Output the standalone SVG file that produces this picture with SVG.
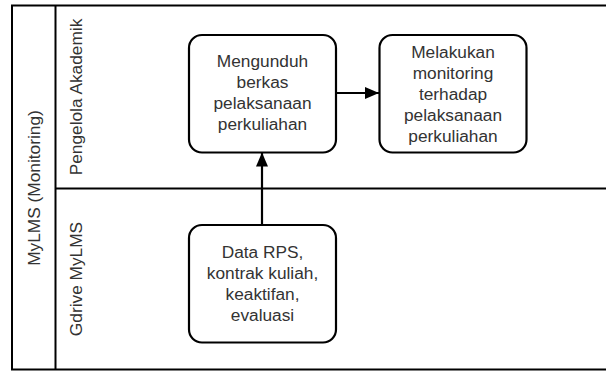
<svg xmlns="http://www.w3.org/2000/svg" width="606" height="371" viewBox="0 0 606 371">
<style>
.frame{fill:none;stroke:#000;stroke-width:2}
.node{fill:#fff;stroke:#000;stroke-width:2.2}
.t{font-family:"Liberation Sans",Arial,sans-serif;font-size:17.3px;fill:#333;text-anchor:middle}
.lbl{font-family:"Liberation Sans",Arial,sans-serif;font-size:17.3px;fill:#333;text-anchor:middle;dominant-baseline:central}
.edge{fill:none;stroke:#000;stroke-width:2.2}
</style>
<defs>
<marker id="ah" viewBox="0 0 14 12" refX="14" refY="6" markerWidth="14" markerHeight="12" markerUnits="userSpaceOnUse" orient="auto">
<path d="M0,0 L14,6 L0,12 Z" fill="#000"/>
</marker>
</defs>
<rect width="606" height="371" fill="#fff"/>
<g id="pool">
<rect class="frame" x="12" y="5.5" width="596" height="364"/>
<line class="frame" x1="55.5" y1="5.5" x2="55.5" y2="369.5"/>
<line class="frame" x1="55.5" y1="188.5" x2="608" y2="188.5"/>
<text class="lbl" transform="translate(34,188) rotate(-90)">MyLMS (Monitoring)</text>
</g>
<g id="lane-pengelola">
<text class="lbl" transform="translate(76,97) rotate(-90)">Pengelola Akademik</text>
</g>
<g id="lane-gdrive">
<text class="lbl" transform="translate(76,279) rotate(-90)">Gdrive MyLMS</text>
</g>
<g id="connectors">
<line class="edge" x1="336" y1="93" x2="379" y2="93" marker-end="url(#ah)"/>
<line class="edge" x1="262" y1="225" x2="262" y2="152.5" marker-end="url(#ah)"/>
</g>
<g id="node-mengunduh">
<rect class="node" x="189" y="35" width="147" height="117.5" rx="13"/>
<text class="t" x="262.5" y="67">Mengunduh</text>
<text class="t" x="262.5" y="88">berkas</text>
<text class="t" x="262.5" y="109">pelaksanaan</text>
<text class="t" x="262.5" y="130">perkuliahan</text>
</g>
<g id="node-monitoring">
<rect class="node" x="379.5" y="35" width="147" height="117.5" rx="13"/>
<text class="t" x="453" y="57.5">Melakukan</text>
<text class="t" x="453" y="78.5">monitoring</text>
<text class="t" x="453" y="99.5">terhadap</text>
<text class="t" x="453" y="120.5">pelaksanaan</text>
<text class="t" x="453" y="141.5">perkuliahan</text>
</g>
<g id="node-data">
<rect class="node" x="189" y="225" width="147" height="117.5" rx="13"/>
<text class="t" x="262.5" y="258">Data RPS,</text>
<text class="t" x="262.5" y="279">kontrak kuliah,</text>
<text class="t" x="262.5" y="300">keaktifan,</text>
<text class="t" x="262.5" y="321">evaluasi</text>
</g>
</svg>
